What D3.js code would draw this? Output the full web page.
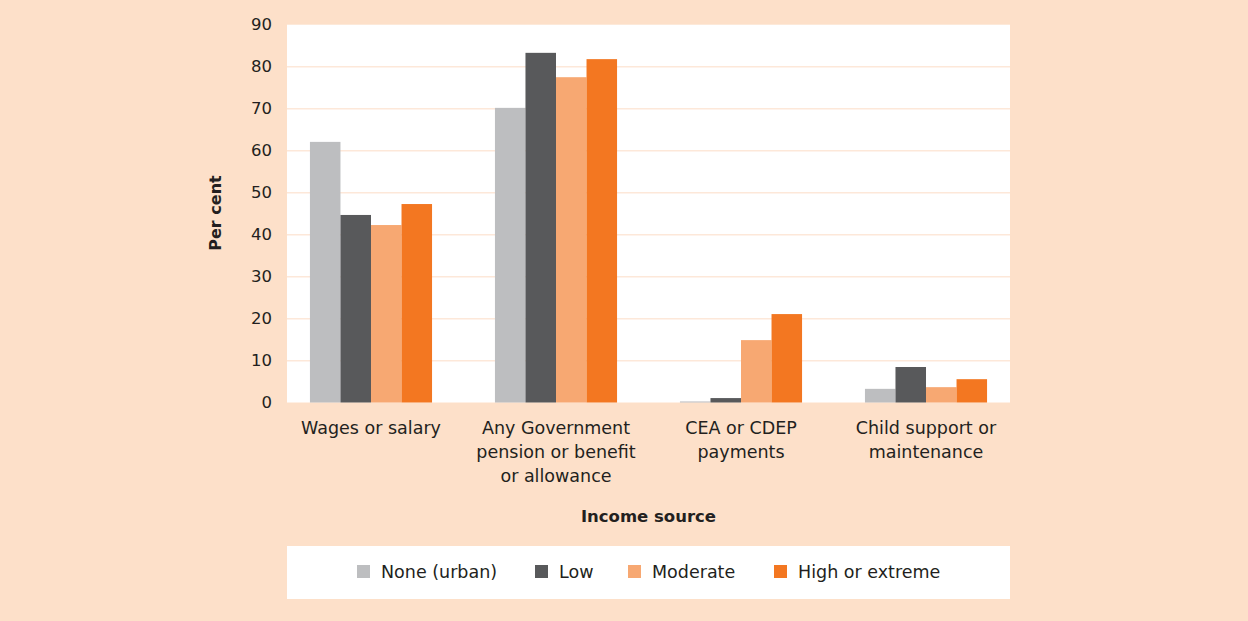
<!DOCTYPE html>
<html>
<head>
<meta charset="utf-8">
<script src="https://cdn.jsdelivr.net/npm/d3@7"></script>
<style>
  body { margin:0; background:#fde0c9; }
  svg { display:block; }
  text { font-family: "DejaVu Sans", sans-serif; fill:#231f20; }
</style>
</head>
<body>
<div id="chart"></div>
<script>
const categories = [
  ["Wages or salary"],
  ["Any Government", "pension or benefit", "or allowance"],
  ["CEA or CDEP", "payments"],
  ["Child support or", "maintenance"]
]
const seriesNames = ["None (urban)", "Low", "Moderate", "High or extreme"]
const noneUrban = [62.1, 70.2, 0.3, 3.3]
const low = [44.7, 83.3, 1.1, 8.5]
const moderate = [42.3, 77.5, 14.9, 3.7]
const highExtreme = [47.3, 81.8, 21.1, 5.6]
const yTicks = [0, 10, 20, 30, 40, 50, 60, 70, 80, 90]
const colors = ["#bdbec0", "#58595b", "#f7a872", "#f37721"]

const W = 1248, H = 621
const plot = {left: 287, right: 1010, top: 24.7, bottom: 402.7}

const svg = d3.select("#chart").append("svg")
	.attr("width", W).attr("height", H)

svg.append("rect").attr("width", W).attr("height", H).attr("fill", "#fde0c9")

svg.append("rect")
	.attr("x", plot.left).attr("y", plot.top)
	.attr("width", plot.right - plot.left).attr("height", plot.bottom - plot.top)
	.attr("fill", "#fff")

const series = [noneUrban, low, moderate, highExtreme]
const keys = categories.map((c, i) => i)

const x0 = d3.scaleBand().domain(keys)
	.range([plot.left, plot.right])
	.paddingInner(0.34).paddingOuter(0.124)
const x1 = d3.scaleBand().domain(d3.range(series.length))
	.range([0, x0.bandwidth()])
const y = d3.scaleLinear().domain([0, 90]).range([plot.bottom, plot.top])

// gridlines
svg.append("g").selectAll("line").data(yTicks.filter(t => t > 0 && t < 90)).join("line")
	.attr("x1", plot.left).attr("x2", plot.right)
	.attr("y1", d => y(d)).attr("y2", d => y(d))
	.attr("stroke", "#fde8d9").attr("stroke-width", 1.5)

// y axis labels
const yAxis = d3.axisLeft(y).tickValues(yTicks).tickSize(0).tickPadding(15)
const ya = svg.append("g").attr("transform", `translate(${plot.left},0)`).call(yAxis)
ya.select(".domain").remove()
ya.selectAll("text").style("font-size", "16.5px").attr("fill", "#231f20")
	.style("font-family", "'DejaVu Sans', sans-serif")

// bars
const groups = svg.append("g").selectAll("g").data(keys).join("g")
	.attr("transform", d => `translate(${x0(d)},0)`)
groups.selectAll("rect")
	.data(k => series.map((s, j) => ({j, v: s[k]})))
	.join("rect")
	.attr("x", d => x1(d.j))
	.attr("width", x1.bandwidth())
	.attr("y", d => y(d.v))
	.attr("height", d => y(0) - y(d.v))
	.attr("fill", d => colors[d.j])

// baseline strip
svg.append("rect").attr("x", plot.left).attr("y", plot.bottom)
	.attr("width", plot.right - plot.left).attr("height", 2).attr("fill", "#fde0c9")

// category labels
const cl = svg.append("g").selectAll("text").data(keys).join("text")
	.attr("text-anchor", "middle")
	.attr("x", d => x0(d) + x0.bandwidth() / 2)
	.attr("y", 434)
	.style("font-size", "17.5px")
cl.selectAll("tspan").data(d => categories[d]).join("tspan")
	.attr("x", function() { return d3.select(this.parentNode).attr("x") })
	.attr("dy", (d, i) => i === 0 ? 0 : 24)
	.text(d => d)

// axis titles
svg.append("text").attr("x", (plot.left + plot.right) / 2).attr("y", 522)
	.attr("text-anchor", "middle").style("font-size", "16.5px").style("font-weight", "bold")
	.text("Income source")
svg.append("text")
	.attr("transform", `translate(221,213) rotate(-90)`)
	.attr("text-anchor", "middle").style("font-size", "16px").style("font-weight", "bold")
	.text("Per cent")

// legend
svg.append("rect").attr("x", plot.left).attr("y", 546)
	.attr("width", plot.right - plot.left).attr("height", 53).attr("fill", "#fff")
const legendX = [357, 535, 628, 774]
const lg = svg.append("g").selectAll("g").data(seriesNames).join("g")
	.attr("transform", (d, i) => `translate(${legendX[i]},565)`)
lg.append("rect").attr("width", 13).attr("height", 13).attr("fill", (d, i) => colors[i])
lg.append("text").attr("x", 24).attr("y", 13).style("font-size", "17.5px").text(d => d)
</script>
</body>
</html>
